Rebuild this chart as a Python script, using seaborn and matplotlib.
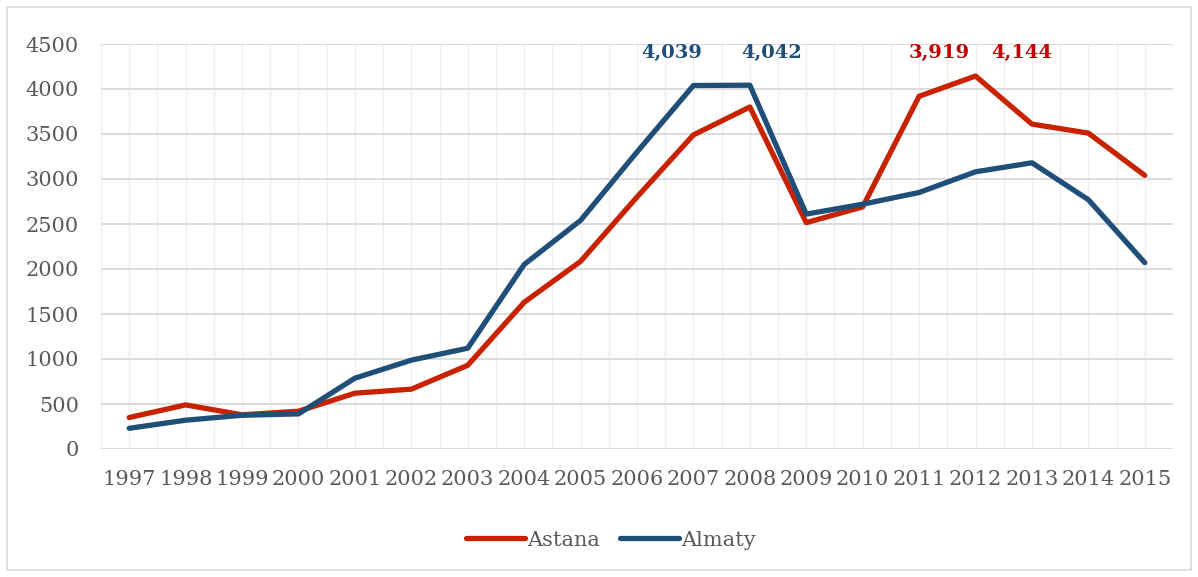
import pandas as pd
import matplotlib.pyplot as plt
import seaborn as sns
from matplotlib.patches import Rectangle
from matplotlib.ticker import MultipleLocator

# === Datos ===
years = list(range(1997, 2016))
astana = [350, 490, 380, 420, 620, 665, 930, 1630, 2085, 2800, 3490, 3800,
          2515, 2690, 3919, 4144, 3610, 3510, 3040]
almaty = [230, 320, 375, 390, 787, 987, 1120, 2050, 2540, 3300, 4039, 4042,
          2610, 2720, 2850, 3080, 3180, 2770, 2070]

# etiquetas destacadas (año, texto)
labels_almaty = [(2007, '4,039'), (2008, '4,042')]
labels_astana = [(2011, '3,919'), (2012, '4,144')]
# desplazamiento horizontal de cada etiqueta (como en el original)
offsets_almaty = [-0.39, 0.39]
offsets_astana = [0.36, 0.82]

df = pd.DataFrame({
    'Year': years * 2,
    'Value': astana + almaty,
    'City': ['Astana'] * len(years) + ['Almaty'] * len(years),
})

sns.set_style('white')
plt.rcParams['font.family'] = ['DejaVu Serif']

red = '#C82200'
blue = '#1F4E79'
gray = '#595959'

fig = plt.figure(figsize=(11.98, 5.77), dpi=100)
ax = fig.add_axes([101 / 1198, 1 - 449 / 577, 1072 / 1198, 405 / 577])

sns.lineplot(data=df, x='Year', y='Value', hue='City',
             palette={'Astana': red, 'Almaty': blue}, linewidth=3.8,
             ax=ax, legend=True)

ax.set_xlim(1996.5, 2015.5)
ax.set_ylim(0, 4500)
ax.set_xticks(years)
ax.set_xticklabels([str(y) for y in years])
ax.xaxis.set_minor_locator(MultipleLocator(0.5))
ax.yaxis.set_major_locator(MultipleLocator(500))
ax.grid(axis='y', which='major', color='#d9d9d9', linewidth=1.3)
ax.grid(axis='x', which='both', color='#eeeeee', linewidth=1.0)
ax.set_axisbelow(True)
for s in ax.spines.values():
    s.set_visible(False)
ax.tick_params(axis='both', which='both', length=0, labelsize=15, colors=gray)
ax.tick_params(axis='x', pad=15)
ax.tick_params(axis='y', pad=16)
ax.set_xlabel('')
ax.set_ylabel('')

for (yr, txt), dx in zip(labels_almaty, offsets_almaty):
    ax.text(yr + dx, 4400, txt, color=blue, fontsize=14, fontweight='bold',
            ha='center', va='center')
for (yr, txt), dx in zip(labels_astana, offsets_astana):
    ax.text(yr + dx, 4400, txt, color='#C00000', fontsize=14, fontweight='bold',
            ha='center', va='center')

ax.legend_.remove()
handles, lbls = ax.get_legend_handles_labels()
leg = fig.legend(handles, lbls, loc='center', bbox_to_anchor=(0.51, 1 - 540 / 577),
                 ncol=2, frameon=False, fontsize=15, handlelength=2.8,
                 handletextpad=0.1, columnspacing=1.0)
for t in leg.get_texts():
    t.set_color(gray)

fig.patches.append(Rectangle((7 / 1198, 7 / 577), 1184 / 1198, 563 / 577,
                             transform=fig.transFigure, fill=False,
                             edgecolor='#d9d9d9', linewidth=1.2))

fig.savefig('out.png', dpi=100)
